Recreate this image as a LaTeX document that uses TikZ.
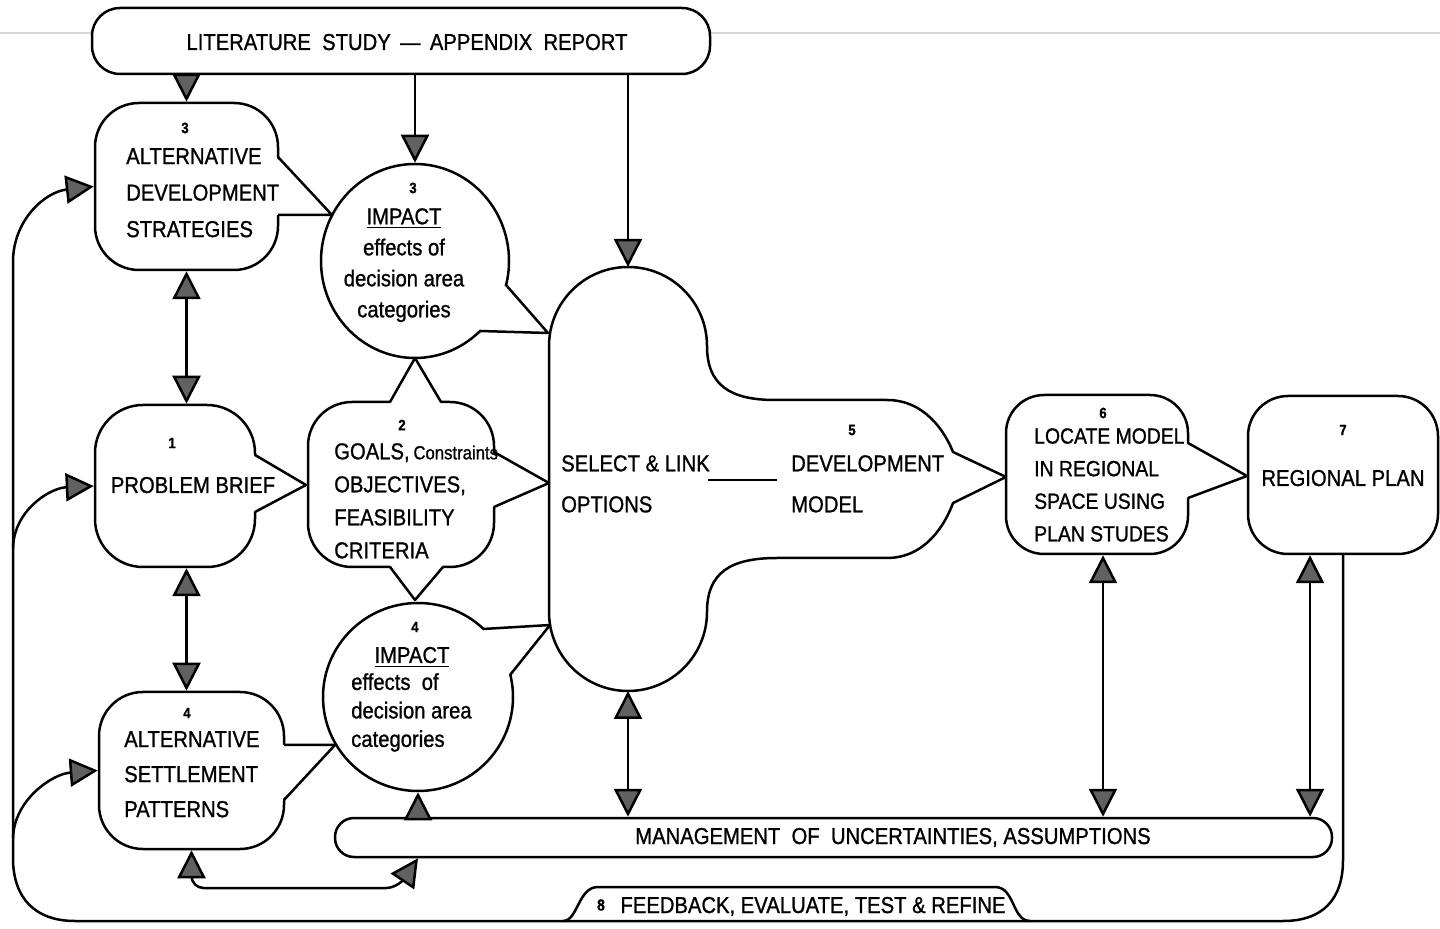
\documentclass[tikz,border=0pt]{standalone}
\usepackage{fontspec}
\setmainfont{Liberation Sans}[FakeStretch=0.88,FakeBold=1]
\usetikzlibrary{arrows.meta,shapes.geometric}
\newcommand\myfs[1]{\fontsize{11.5}{#1}\selectfont}
\begin{document}
\begin{tikzpicture}[x=0.5pt,y=0.5pt,line width=1.25pt,line join=round,
  box/.style={draw,rectangle,inner sep=0pt,rounded corners=22pt},
  ell/.style={draw,ellipse,inner sep=0pt},
  num/.style={inner sep=0pt,font=\fontsize{7.5}{8}\selectfont\bfseries},
  blk/.style={inner sep=0pt,align=left,anchor=north west},
  one/.style={inner sep=0pt,anchor=base,font=\myfs{14}},
  ptr/.style={fill=white,draw=none},
  arr/.style={-{Triangle[width=14pt,length=14pt,fill=black!62]}},
  darr/.style={{Triangle[width=14pt,length=14pt,fill=black!62]}-{Triangle[width=14pt,length=14pt,fill=black!62]}}]
\useasboundingbox (0,0) rectangle (1440,-929);
% faint scan line
\draw[gray!30,line width=1.2pt] (0,-33) -- (1440,-33);

% ---------- boxes ----------
\node[box,rounded corners=14pt,fill=white,minimum width=309pt,minimum height=33pt] (lit) at (401,-41) {};
\node[box,minimum width=91.5pt,minimum height=83.5pt] (ads) at (186.5,-186.5) {};
\node[box,rounded corners=24pt,minimum width=80pt,minimum height=81pt] (pb) at (175,-486) {};
\node[box,minimum width=92.5pt,minimum height=78.5pt] (asp) at (191.5,-770.5) {};
\node[box,minimum width=93pt,minimum height=82.5pt] (goals) at (401,-484.5) {};
\node[box,rounded corners=19pt,minimum width=91pt,minimum height=79.5pt] (lm) at (1097,-474.5) {};
\node[box,rounded corners=20pt,minimum width=95pt,minimum height=79pt] (rp) at (1343,-475) {};
\node[box,rounded corners=9.5pt,minimum width=498.5pt,minimum height=19.5pt] (mu) at (833.5,-837.5) {};

% ---------- speech-bubble pointers of boxes ----------
\fill[ptr] (276,-157) -- (332,-215) -- (276,-215) -- cycle;
\draw (278,-157) -- (332,-215) -- (278,-215);
\fill[ptr] (253,-455) -- (306,-485) -- (253,-512) -- cycle;
\draw (255,-455) -- (306,-485) -- (255,-512);
\fill[ptr] (282,-745) -- (335,-745) -- (282,-800) -- cycle;
\draw (284,-745) -- (335,-745) -- (284,-800);
\fill[ptr] (390,-404) -- (415,-358) -- (441,-404) -- cycle;
\draw (390,-402) -- (415,-358) -- (441,-402);
\fill[ptr] (390,-565) -- (415,-600) -- (443,-565) -- cycle;
\draw (390,-567) -- (415,-600) -- (443,-567);
\fill[ptr] (492,-452) -- (549,-483) -- (492,-507) -- cycle;
\draw (494,-452) -- (549,-483) -- (494,-507);
\fill[ptr] (1186,-443) -- (1247,-476) -- (1186,-498) -- cycle;
\draw (1188,-443) -- (1247,-476) -- (1188,-498);

% ---------- impact circles ----------
\node[ell,minimum width=94pt,minimum height=97pt] (ic3) at (415,-261) {};
\node[ell,minimum width=95pt,minimum height=94pt] (ic4) at (418,-697) {};
\fill[ptr] (506,-285) -- (548,-333) -- (480,-331) -- (485,-302) -- cycle;
\draw (506,-285) -- (548,-333) -- (480,-331);
\fill[ptr] (483,-629) -- (550,-625) -- (510,-675) -- (488,-657) -- cycle;
\draw (483,-629) -- (550,-625) -- (510,-675);

% ---------- select & link / development model ----------
\draw (549,-612) -- (549,-346) arc[start angle=180,end angle=0,radius=39.5pt]
  .. controls (707,-385) and (730,-400) .. (775,-400) -- (887,-400)
  .. controls (925,-400) and (945,-432) .. (953,-452) -- (1006,-477) -- (953,-503)
  .. controls (945,-525) and (925,-558) .. (887,-558) -- (777,-558)
  .. controls (730,-558) and (707,-573) .. (707,-612)
  arc[start angle=0,end angle=-180,radius=39.5pt] -- cycle;
\coordinate (slTop) at (628,-267);
\coordinate (slBot) at (628,-691);
\coordinate (dl) at (708,-480);
\coordinate (dr) at (777,-480);
\draw (dl) -- (dr);

% ---------- feedback tab ----------
\draw[fill=white] (563,-921) .. controls (578,-921) and (578,-887) .. (598,-887) -- (995,-887)
  .. controls (1015,-887) and (1012,-921) .. (1030,-921);

% ---------- texts ----------
\node[one] (tlit) at (407,-50) {LITERATURE\ \ STUDY \,—\, APPENDIX\ \ REPORT};
\node[num] (n3a) at (185,-128) {3};
\node[blk,font=\myfs{18.25}] (tads) at (125,-147) {ALTERNATIVE\\DEVELOPMENT\\STRATEGIES};
\node[num] (n3b) at (413,-188) {3};
\node[inner sep=0pt,align=center,anchor=north,font=\myfs{15.5}] (tic3) at (404,-207) {\underline{IMPACT}\\effects of\\decision area\\categories};
\node[num] (n1) at (172,-443) {1};
\node[one] (tpb) at (193,-493) {PROBLEM\ BRIEF};
\node[num] (n2) at (402,-425) {2};
\node[blk,font=\myfs{16.5}] (tgoals) at (333,-442) {GOALS,\,{\fontsize{9.5}{10}\selectfont Constraints}\\OBJECTIVES,\\FEASIBILITY\\CRITERIA};
\node[num] (n4a) at (187,-713) {4};
\node[blk,font=\myfs{17.5}] (tasp) at (123,-730) {ALTERNATIVE\\SETTLEMENT\\PATTERNS};
\node[num] (n4b) at (415,-627) {4};
\node[one] (timp4) at (412,-663) {\underline{IMPACT}};
\node[blk,font=\myfs{14.25}] (tic4) at (350,-672) {effects\ \ of\\decision area\\categories};
\node[blk,font=\myfs{20.5}] (tsl) at (560,-454) {SELECT \& LINK\\OPTIONS};
\node[num] (n5) at (852,-430) {5};
\node[blk,font=\myfs{20.5}] (tdm) at (790,-454) {DEVELOPMENT\\MODEL};
\node[num] (n6) at (1103,-413) {6};
\node[blk,font=\fontsize{11}{16.3}\selectfont] (tlm) at (1033,-427) {LOCATE MODEL\\IN REGIONAL\\SPACE USING\\PLAN STUDES};
\node[num] (n7) at (1343,-430) {7};
\node[one] (trp) at (1343,-486) {REGIONAL PLAN};
\node[one] (tmu) at (893,-844) {MANAGEMENT\ \ OF\ \ UNCERTAINTIES, ASSUMPTIONS};
\node[num,font=\fontsize{8}{9}\selectfont\bfseries] (n8) at (601,-905) {8};
\node[one] (tfb) at (813,-913) {FEEDBACK, EVALUATE, TEST \& REFINE};

% ---------- connectors ----------
\draw[arr] (lit.south -| ads.north) -- (ads.north);
\draw[arr] (lit.south -| ic3.north) -- (ic3.north);
\draw[arr] (lit.south -| slTop) -- (slTop);
\draw[darr] (ads.south) -- (ads.south |- pb.north);
\draw[darr] (ads.south |- pb.south) -- (ads.south |- asp.north);
\draw[darr] (slBot) -- (slBot |- mu.north);
\draw[darr] ([xshift=3pt]lm.south) -- ([xshift=3pt]lm.south |- mu.north);
\draw[darr] ([xshift=-16.5pt]rp.south) -- ([xshift=-16.5pt]rp.south |- mu.north);
\draw[arr] (ic4.south |- mu.north) -- (ic4.south);
\draw[darr,rounded corners=6pt] (asp.south) |- (398,-888) -- (ic4.south |- mu.south);

% feedback loop
\coordinate (fbP) at (13,-548);
\coordinate (fbA) at (13,-838);
\draw[arr] (rp.south) -- (1343,-860) .. controls (1343,-900) and (1322,-921) .. (1283,-921)
  -- (75,-921) .. controls (35,-921) and (13,-898) .. (13,-858)
  -- (13,-262) .. controls (13,-220) and (45,-192) .. (ads.west);
\draw[arr] (fbP) .. controls (14,-510) and (50,-488) .. (pb.west);
\draw[arr] (fbA) .. controls (14,-800) and (52,-774) .. (asp.west);
\end{tikzpicture}
\end{document}
